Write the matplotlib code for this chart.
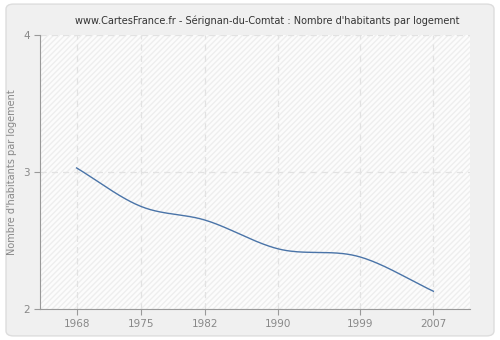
import matplotlib.pyplot as plt
import numpy as np
from matplotlib.patches import FancyBboxPatch

plt.rcParams['font.family'] = 'DejaVu Sans'
plt.rcParams['hatch.color'] = '#eeeeee'

years = [1968, 1975, 1982, 1990, 1999, 2007]
persons = [3.03, 2.75, 2.65, 2.44, 2.38, 2.13]
title = "www.CartesFrance.fr - Sérignan-du-Comtat : Nombre d'habitants par logement"
ylabel = "Nombre d'habitants par logement"
yticks = [2, 3, 4]


def smooth(x, y, n=40):
    # cubic hermite curve through the points (catmull-rom slopes)
    x = np.asarray(x, float)
    y = np.asarray(y, float)
    m = np.gradient(y, x)
    xs, ys = [], []
    for i in range(len(x) - 1):
        h = x[i + 1] - x[i]
        t = np.linspace(0, 1, n)
        h00 = 2 * t**3 - 3 * t**2 + 1
        h10 = t**3 - 2 * t**2 + t
        h01 = -2 * t**3 + 3 * t**2
        h11 = t**3 - t**2
        xs.append(x[i] + t * h)
        ys.append(h00 * y[i] + h10 * h * m[i] + h01 * y[i + 1] + h11 * h * m[i + 1])
    return np.concatenate(xs), np.concatenate(ys)


fig = plt.figure(figsize=(5, 3.4), dpi=100)
fig.patch.set_facecolor('white')
frame = FancyBboxPatch((0.012, 0.012), 0.976, 0.976, boxstyle='round,pad=0,rounding_size=0.015',
                       transform=fig.transFigure, facecolor='#f0f0f0', edgecolor='#dddddd',
                       linewidth=1, zorder=-10)
fig.patches.append(frame)

ax = fig.add_axes([0.08, 0.091, 0.86, 0.806])
ax.set_facecolor('#fcfcfc')
ax.add_patch(plt.Rectangle((0, 0), 1, 1, transform=ax.transAxes, facecolor='none',
                           edgecolor='#eeeeee', hatch='//////', linewidth=0, zorder=0))

sx, sy = smooth(years, persons)
ax.plot(sx, sy, color='#4a74a8', linewidth=1, zorder=3)

ax.set_xlim(1964, 2011)
ax.set_ylim(2, 4)
ax.set_xticks(years)
ax.set_yticks(yticks)
ax.grid(True, color='#e2e2e2', linestyle=(0, (5, 4)), linewidth=0.9)
ax.set_axisbelow(True)

for side in ['top', 'right']:
    ax.spines[side].set_visible(False)
for side in ['left', 'bottom']:
    ax.spines[side].set_color('#999999')
ax.tick_params(colors='#999999', labelcolor='#888888', labelsize=7.5, length=4, width=0.8)

ax.set_ylabel(ylabel, color='#888888', fontsize=7)
ax.set_title(title, fontsize=7, color='#333333', pad=8, x=0.528)

fig.savefig('out.png', dpi=100, facecolor=fig.get_facecolor())
